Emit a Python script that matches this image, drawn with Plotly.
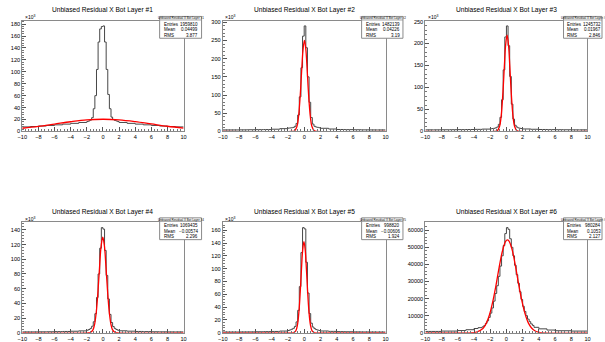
import plotly.graph_objects as go

W, H = 605, 342

# ---------------- data ----------------
TITLES = ["Unbiased Residual X Bot Layer #1", "Unbiased Residual X Bot Layer #2",
          "Unbiased Residual X Bot Layer #3", "Unbiased Residual X Bot Layer #4",
          "Unbiased Residual X Bot Layer #5", "Unbiased Residual X Bot Layer #6"]
ENTRIES = ["1959810", "1482139", "1245732", "1069435", "998820", "980284"]
MEANS = ["0.04499", "0.04226", "0.01967", "\u22120.00574", "\u22120.00606", "0.1053"]
RMSS = ["3.877", "3.19", "2.846", "2.296", "1.924", "2.127"]

X_TICKS = [-10, -8, -6, -4, -2, 0, 2, 4, 6, 8, 10]

# bin edges shared by layers 1-5 (counts in units of 10^3)
EDGES = [-10, -9, -8, -7, -6, -5, -4, -3,
         -2.0, -1.8, -1.6, -1.4, -1.2, -1.0, -0.8, -0.6, -0.4, -0.2,
         0.0, 0.2, 0.4, 0.6, 0.8, 1.0, 1.2, 1.4, 1.6, 1.8, 2.0,
         3, 4, 5, 6, 7, 8, 9, 10]

COUNTS_1 = [7.5, 8.2, 9.0, 10.0, 11.0, 12.2, 13.5, 15.0,
            16.5, 17.5, 19, 23, 38, 60, 104, 150, 172, 176,
            177, 150, 104, 62, 38, 24, 20, 18.5, 17.5, 16.5,
            15, 13.5, 12.2, 11, 10, 9, 8.2, 7.5]
COUNTS_2 = [4, 4, 4.2, 4.5, 4.8, 5, 6, 7.5,
            9, 9.5, 10, 11, 14, 22, 45, 95, 175, 262,
            290, 230, 150, 80, 38, 20, 14, 12, 11, 10,
            8.5, 6.5, 5.2, 4.8, 4.5, 4.2, 4, 4]
COUNTS_3 = [3.5, 3.5, 3.7, 3.8, 4, 4.2, 4.6, 5.2,
            6, 6.5, 7, 8, 10, 16, 32, 72, 140, 215,
            240, 195, 125, 62, 28, 14, 10, 8, 7, 6.5,
            5.5, 4.8, 4.3, 4, 3.8, 3.7, 3.5, 3.5]
COUNTS_4 = [1.2, 1.2, 1.3, 1.4, 1.6, 1.8, 2.1, 2.6,
            3.5, 4.5, 6, 9, 15, 26, 48, 80, 115, 143,
            141, 112, 78, 46, 25, 14, 8.5, 6, 4.5, 3.5,
            2.7, 2.2, 1.8, 1.6, 1.4, 1.3, 1.2, 1.2]
COUNTS_5 = [1.2, 1.2, 1.3, 1.4, 1.6, 1.8, 2.1, 2.7,
            3.5, 4.5, 5.5, 7, 10, 17, 35, 72, 125, 164,
            162, 110, 62, 30, 15, 9, 6.5, 5, 4.2, 3.5,
            2.8, 2.2, 1.8, 1.6, 1.4, 1.3, 1.2, 1.2]

# layer 6 (raw counts)
EDGES_6 = [-10, -8, -6, -5, -4, -3.5,
           -3.0, -2.8, -2.6, -2.4, -2.2, -2.0, -1.8, -1.6, -1.4, -1.2, -1.0,
           -0.8, -0.6, -0.4, -0.2, 0.0, 0.2, 0.4, 0.6, 0.8, 1.0, 1.2, 1.4,
           1.6, 1.8, 2.0, 2.2, 2.4, 2.6, 2.8, 3.0, 3.2, 3.4,
           4, 5, 6, 8, 10]
COUNTS_6 = [800, 1000, 1300, 1800, 2500, 3000,
            3500, 4200, 5500, 7000, 9000, 11500, 14500, 18500, 23000, 27500,
            33000, 39000, 45000, 51000, 58000,
            61500, 60500, 55000, 50000, 45000, 39500, 34000, 29000, 24000,
            19500, 15500, 12500, 10000, 8000, 6500, 5200, 4300,
            3200, 2300, 1600, 1200, 1000]

# fitted gaussian curves
FIT_X_1 = [-10, -8, -6, -4, -2, 0, 2, 4, 6, 8, 10]
FIT_Y_1 = [5.3, 8.4, 12.3, 16.2, 19.3, 20.4, 19.4, 16.4, 12.5, 8.6, 5.4]
FIT_X_2 = [-10, -1.6, -1.2, -0.9, -0.7, -0.5, -0.3, -0.15, 0.03, 0.2, 0.35, 0.55, 0.75, 0.95, 1.25, 1.6, 10]
FIT_Y_2 = [0, 0, 1.3, 12.5, 39.5, 94.5, 171, 223, 250, 226, 175, 98, 41.5, 13.3, 1.5, 0, 0]
FIT_X_3 = [-10, -1.5, -1.15, -0.85, -0.65, -0.45, -0.25, -0.10, 0.08, 0.26, 0.41, 0.61, 0.81, 1.01, 1.31, 1.7, 10]
FIT_Y_3 = [0, 0, 1.2, 11, 34.6, 83, 150, 196, 219, 196, 150, 83, 34.6, 11, 1.2, 0, 0]
FIT_X_4 = [-10, -1.9, -1.52, -1.22, -1.02, -0.82, -0.62, -0.42, -0.22, -0.02, 0.18, 0.38, 0.58, 0.78, 0.98, 1.18, 1.48, 1.9, 10]
FIT_Y_4 = [0, 0, 0.6, 4.3, 12.2, 28.6, 55.5, 89, 118.3, 130, 118.3, 89, 55.5, 28.6, 12.2, 4.3, 0.6, 0, 0]
FIT_X_5 = [-10, -1.7, -1.33, -1.03, -0.83, -0.63, -0.48, -0.33, -0.18, -0.03, 0.12, 0.27, 0.42, 0.57, 0.77, 0.97, 1.27, 1.65, 10]
FIT_Y_5 = [0, 0, 0.2, 3, 12, 35.4, 65, 100, 130, 142, 130, 100, 65, 35.4, 12, 3, 0.2, 0, 0]
FIT_X_6 = [-10, -4.5, -3.7, -2.9, -2.5, -2.1, -1.7, -1.3, -0.9, -0.5, -0.1, 0.12, 0.3, 0.7, 1.1, 1.5, 1.9, 2.3, 2.7, 3.1, 3.5, 3.9, 4.6, 10]
FIT_Y_6 = [0, 0, 400, 2500, 5400, 10400, 17900, 27500, 38300, 47700, 53400, 54300, 53700, 48600, 39400, 28600, 18800, 11100, 5800, 2800, 1200, 450, 0, 0]

Y_DTICK = [20, 50, 50, 20, 20, 10000]
Y_MINOR = [4, 10, 10, 4, 4, 2000]
SHOW_X1000 = [True, True, True, True, True, False]

# ---------------- layout geometry (pixels) ----------------
FRAME_X = [(17.5, 181.0), (220.7, 385.7), (426.0, 590.3)]
FRAME_Y = [(19.0, 131.7), (224.3, 336.7)]
ROW_SHIFT = [0, 205]

FONT = "Liberation Sans, Arial, Helvetica, sans-serif"
HIST_COLOR = "#474747"
FRAME_COLOR = "#8a8a8a"

hists = [(EDGES, COUNTS_1), (EDGES, COUNTS_2), (EDGES, COUNTS_3),
         (EDGES, COUNTS_4), (EDGES, COUNTS_5), (EDGES_6, COUNTS_6)]
fits = [(FIT_X_1, FIT_Y_1), (FIT_X_2, FIT_Y_2), (FIT_X_3, FIT_Y_3),
        (FIT_X_4, FIT_Y_4), (FIT_X_5, FIT_Y_5), (FIT_X_6, FIT_Y_6)]


def px(x):
    return x / W


def py(y):
    return 1 - y / H


fig = go.Figure()
annotations = []
shapes = []
layout_axes = {}

for i in range(6):
    row, col = divmod(i, 3)
    sfx = "" if i == 0 else str(i + 1)
    xa, ya = "x" + sfx, "y" + sfx
    edges, counts = hists[i]
    fx, fy = fits[i]

    fig.add_trace(go.Scatter(x=edges, y=list(counts) + [counts[-1]], mode="lines",
                             line=dict(shape="hv", color=HIST_COLOR, width=1),
                             xaxis=xa, yaxis=ya, hoverinfo="skip"))
    fig.add_trace(go.Scatter(x=fx, y=fy, mode="lines",
                             line=dict(shape="spline", smoothing=1, color="#ff0000", width=1.3),
                             xaxis=xa, yaxis=ya, hoverinfo="skip"))

    fl, fr = FRAME_X[col]
    ft, fb = FRAME_Y[row]
    ymax = max(counts) * 1.05

    layout_axes["xaxis" + sfx] = dict(
        domain=[px(fl), px(fr)], anchor=ya, range=[-10, 10],
        tickmode="array", tickvals=X_TICKS,
        ticks="inside", ticklen=4, tickwidth=1, tickcolor="#555",
        minor=dict(dtick=0.4, tick0=-10, ticks="inside", ticklen=2, tickcolor="#777"),
        showline=True, linecolor=FRAME_COLOR, linewidth=1, mirror=True,
        showgrid=False, zeroline=False, fixedrange=True,
        tickfont=dict(family=FONT, size=5.6, color="#000"))
    layout_axes["yaxis" + sfx] = dict(
        domain=[py(fb), py(ft)], anchor=xa, range=[0, ymax],
        dtick=Y_DTICK[i], tick0=0, tickformat="d",
        ticks="inside", ticklen=4, tickwidth=1, tickcolor="#555",
        minor=dict(dtick=Y_MINOR[i], tick0=0, ticks="inside", ticklen=2, tickcolor="#777"),
        showline=True, linecolor=FRAME_COLOR, linewidth=1, mirror=True,
        showgrid=False, zeroline=False, fixedrange=True,
        tickfont=dict(family=FONT, size=5.6, color="#000"))

    shift = ROW_SHIFT[row]
    # title
    annotations.append(dict(text=TITLES[i], x=px((fl + fr) / 2), y=py(8.3 + shift),
                            xref="paper", yref="paper", showarrow=False,
                            xanchor="center", yanchor="middle",
                            font=dict(family=FONT, size=6.6, color="#000")))
    if SHOW_X1000[i]:
        annotations.append(dict(text="\u00d710<sup>3</sup>", x=px(fl + 0.5), y=py(15.5 + shift),
                                xref="paper", yref="paper", showarrow=False,
                                xanchor="left", yanchor="middle",
                                font=dict(family=FONT, size=5, color="#000")))
    # stats box
    bl = fr - 24.3
    br = min(bl + 42.5, [201.6, 403.3, 605][col])
    bt, bb = 14.7 + shift, 36.9 + shift
    shapes.append(dict(type="rect", xref="paper", yref="paper",
                       x0=px(bl), x1=px(br), y0=py(bb), y1=py(bt),
                       line=dict(color=FRAME_COLOR, width=1), fillcolor="white", layer="above"))
    shapes.append(dict(type="line", xref="paper", yref="paper",
                       x0=px(bl), x1=px(br), y0=py(bt + 3.6), y1=py(bt + 3.6),
                       line=dict(color=FRAME_COLOR, width=0.8), layer="above"))
    annotations.append(dict(text=TITLES[i], x=px(bl + 21.2), y=py(bt + 1.9),
                            xref="paper", yref="paper", showarrow=False,
                            xanchor="center", yanchor="middle",
                            font=dict(family=FONT, size=3, color="#000")))
    for k, (lab, val) in enumerate([("Entries", ENTRIES[i]), ("Mean", MEANS[i]), ("RMS", RMSS[i])]):
        yy = bt + 8.0 + k * 5.6
        annotations.append(dict(text=lab, x=px(bl + 2.0), y=py(yy),
                                xref="paper", yref="paper", showarrow=False,
                                xanchor="left", yanchor="middle",
                                font=dict(family=FONT, size=4.5, color="#000")))
        annotations.append(dict(text=val, x=px(bl + 40.5), y=py(yy),
                                xref="paper", yref="paper", showarrow=False,
                                xanchor="right", yanchor="middle",
                                font=dict(family=FONT, size=4.5, color="#000")))

fig.update_layout(
    width=W, height=H, autosize=False,
    margin=dict(l=0, r=0, t=0, b=0),
    paper_bgcolor="white", plot_bgcolor="white",
    showlegend=False, hovermode=False,
    annotations=annotations, shapes=shapes,
    **layout_axes)

fig.write_html("out.html", config={"displayModeBar": False, "staticPlot": True},
               post_script="document.body.style.margin='0';document.body.style.overflow='hidden';")
